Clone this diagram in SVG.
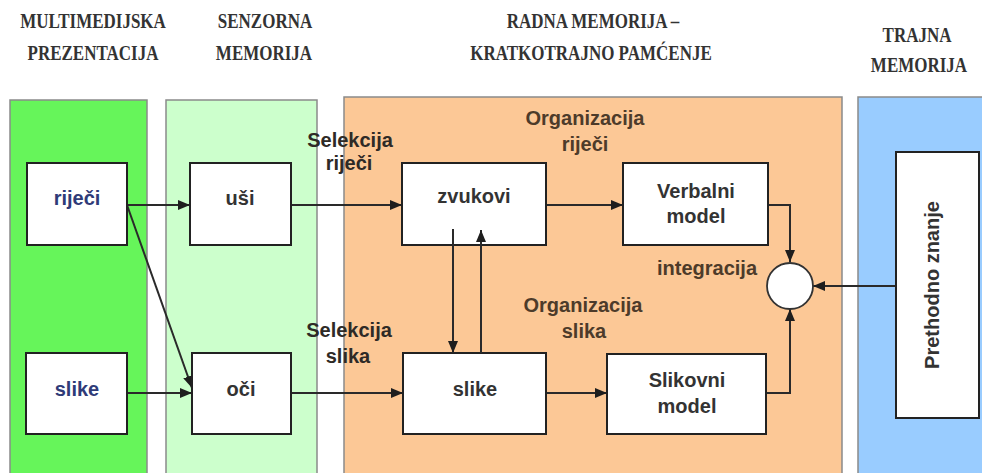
<svg xmlns="http://www.w3.org/2000/svg" width="982" height="473" viewBox="0 0 982 473">
<style>
.hdr{font-family:"Liberation Serif","Times New Roman",serif;font-weight:bold;font-size:17px;fill:#333;text-anchor:middle}
.lbl{font-family:"Liberation Sans",Arial,sans-serif;font-weight:bold;font-size:20px;text-anchor:middle}
.node{fill:#333}
.blue{fill:#2f3b78}
.org{fill:#4d3b2a}
.sel{fill:#2e2a26}
.panel{stroke:#8a8a8a;stroke-width:1.5}
.box{fill:#fff;stroke:#222;stroke-width:2}
.con{fill:none;stroke:#2a2a2a;stroke-width:2}
</style>
<defs>
<marker id="ah" viewBox="0 0 12 10" refX="12" refY="5" markerWidth="12" markerHeight="10" markerUnits="userSpaceOnUse" orient="auto">
<path d="M0,0 L12,5 L0,10 z" fill="#1e1e1e"/>
</marker>
</defs>
<rect width="982" height="473" fill="#fff"/>
<g id="headers">
<text class="hdr" transform="translate(93,28) scale(1,1.2)">MULTIMEDIJSKA</text>
<text class="hdr" transform="translate(93,60) scale(1,1.2)">PREZENTACIJA</text>
<text class="hdr" transform="translate(265,28) scale(1,1.2)">SENZORNA</text>
<text class="hdr" transform="translate(264,60) scale(1,1.2)">MEMORIJA</text>
<text class="hdr" transform="translate(593,28) scale(1,1.2)">RADNA MEMORIJA –</text>
<text class="hdr" transform="translate(591,60) scale(1,1.2)">KRATKOTRAJNO PAMĆENJE</text>
<text class="hdr" transform="translate(917,42) scale(1,1.2)">TRAJNA</text>
<text class="hdr" transform="translate(919,72) scale(1,1.2)">MEMORIJA</text>
</g>
<g id="panels">
<rect class="panel" x="10" y="100" width="137" height="380" fill="#66f55a"/>
<rect class="panel" x="166" y="100" width="151" height="380" fill="#ccffcc"/>
<rect class="panel" x="344" y="97" width="498" height="383" fill="#fcc896"/>
<rect class="panel" x="858" y="97" width="130" height="383" fill="#99ccff"/>
</g>
<g id="connectors">
<line class="con" x1="127" y1="205" x2="190" y2="205" marker-end="url(#ah)"/>
<line class="con" x1="127" y1="205" x2="192" y2="388" marker-end="url(#ah)"/>
<line class="con" x1="127" y1="393" x2="192" y2="393" marker-end="url(#ah)"/>
<line class="con" x1="291" y1="205" x2="402" y2="205" marker-end="url(#ah)"/>
<line class="con" x1="291" y1="393" x2="403" y2="393" marker-end="url(#ah)"/>
<line class="con" x1="546" y1="205" x2="623" y2="205" marker-end="url(#ah)"/>
<line class="con" x1="546" y1="393" x2="607" y2="393" marker-end="url(#ah)"/>
<path class="con" d="M768,205 H790 V262" marker-end="url(#ah)"/>
<path class="con" d="M766,393 H790 V309" marker-end="url(#ah)"/>
<line class="con" x1="895" y1="286" x2="813" y2="286" marker-end="url(#ah)"/>
</g>
<g id="n-rijeci"><rect class="box" x="27" y="163" width="100" height="82"/><text class="lbl blue" x="77" y="205">riječi</text></g>
<g id="n-slike-l"><rect class="box" x="26" y="353" width="101" height="81"/><text class="lbl blue" x="77" y="396">slike</text></g>
<g id="n-usi"><rect class="box" x="190" y="163" width="101" height="82"/><text class="lbl node" x="240" y="205">uši</text></g>
<g id="n-oci"><rect class="box" x="192" y="353" width="99" height="81"/><text class="lbl node" x="241" y="396">oči</text></g>
<g id="n-zvukovi"><rect class="box" x="402" y="163" width="144" height="82"/><text class="lbl node" x="474" y="203">zvukovi</text></g>
<g id="n-slike-m"><rect class="box" x="403" y="353" width="143" height="81"/><text class="lbl node" x="475" y="396">slike</text></g>
<g id="updown">
<line class="con" x1="453" y1="229" x2="453" y2="353" marker-end="url(#ah)"/>
<line class="con" x1="481" y1="353" x2="481" y2="230" marker-end="url(#ah)"/>
</g>
<g id="n-verbalni"><rect class="box" x="623" y="163" width="145" height="82"/><text class="lbl node" x="696" y="198">Verbalni</text><text class="lbl node" x="696" y="223">model</text></g>
<g id="n-slikovni"><rect class="box" x="607" y="354" width="159" height="80"/><text class="lbl node" x="687" y="387">Slikovni</text><text class="lbl node" x="687" y="413">model</text></g>
<g id="n-integracija"><circle cx="790" cy="286" r="23" fill="#fff" stroke="#333" stroke-width="1.8"/></g>
<g id="n-prethodno"><rect class="box" x="896" y="152" width="83" height="266"/><text class="lbl node" transform="translate(939,285) rotate(-90)">Prethodno znanje</text></g>
<g id="labels">
<text class="lbl sel" x="350" y="147">Selekcija</text>
<text class="lbl sel" x="349" y="170">riječi</text>
<text class="lbl sel" x="349" y="337">Selekcija</text>
<text class="lbl sel" x="348" y="363">slika</text>
<text class="lbl org" x="585" y="125">Organizacija</text>
<text class="lbl org" x="585" y="151">riječi</text>
<text class="lbl org" x="583" y="312">Organizacija</text>
<text class="lbl org" x="584" y="338">slika</text>
<text class="lbl org" x="707" y="275">integracija</text>
</g>
</svg>
